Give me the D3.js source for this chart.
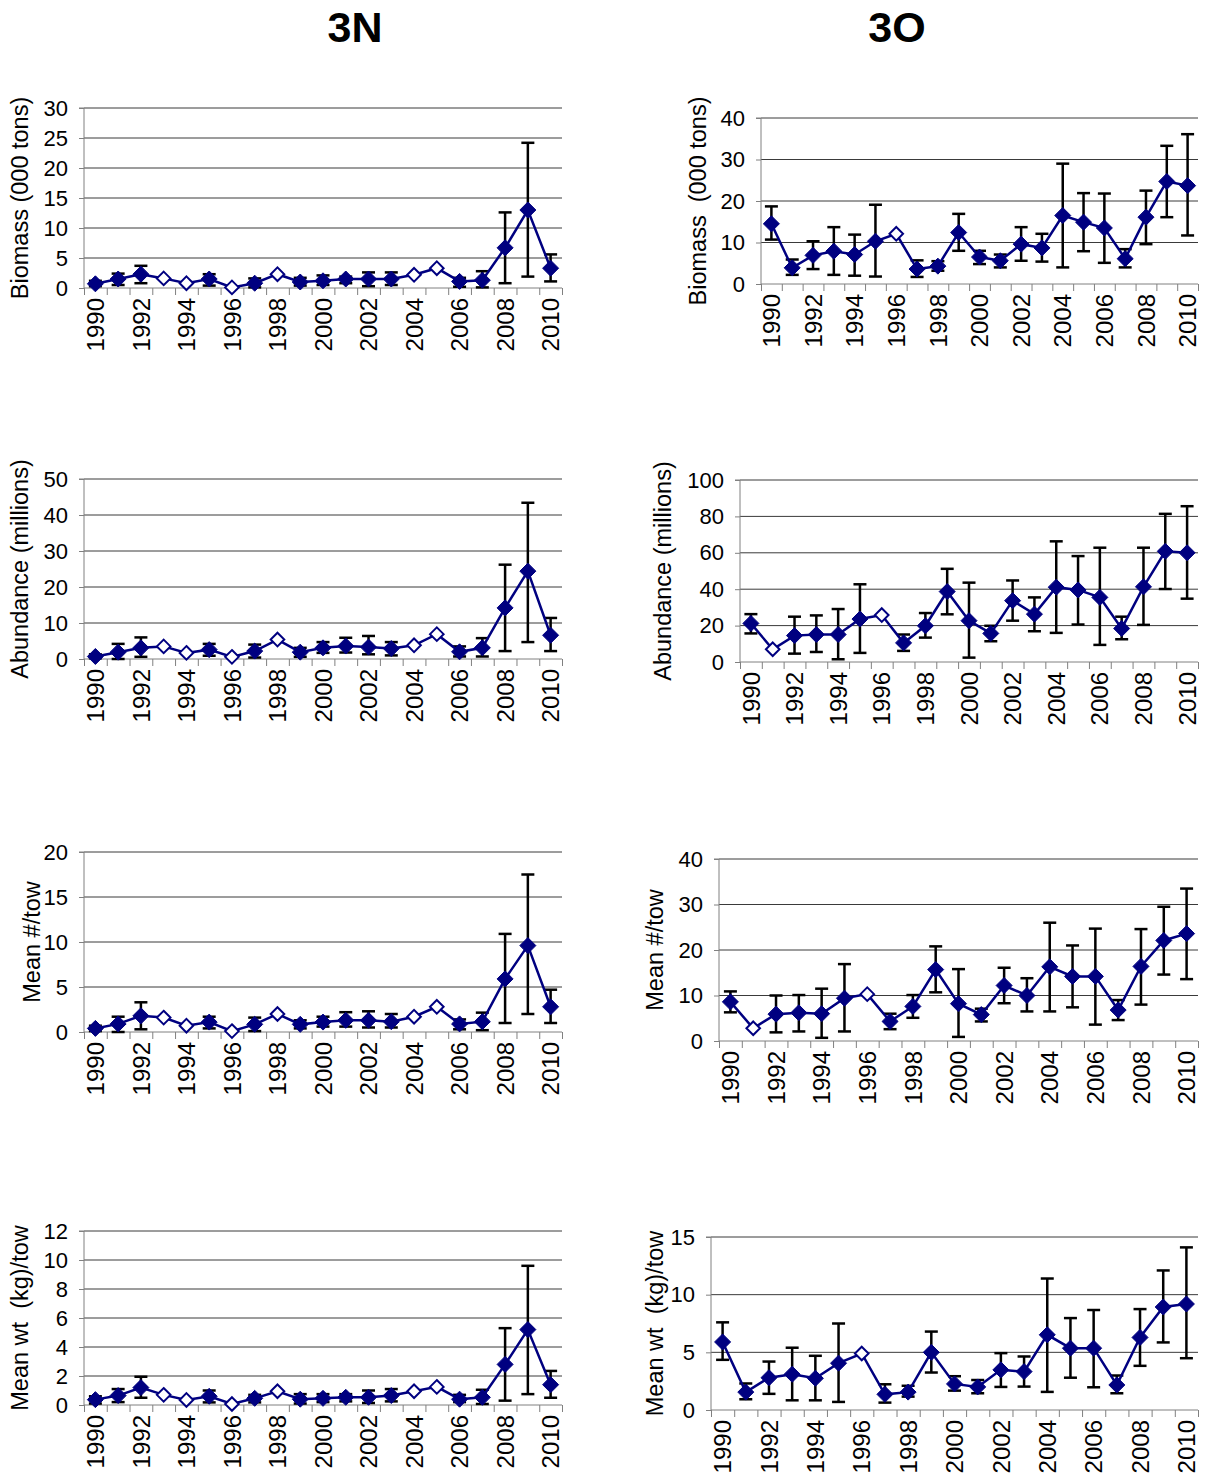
<!DOCTYPE html>
<html>
<head>
<meta charset="utf-8">
<script src="https://cdn.jsdelivr.net/npm/d3@7/dist/d3.min.js"></script>
<style>
  html, body { margin: 0; padding: 0; background: #fff; }
  svg { display: block; font-family: "Liberation Sans", Arial, sans-serif; }
</style>
</head>
<body>
<svg id="chart" width="1210" height="1481"></svg>
<script>
// Survey years (categories on every x axis)
const years = [1990, 1991, 1992, 1993, 1994, 1995, 1996, 1997, 1998, 1999, 2000,
               2001, 2002, 2003, 2004, 2005, 2006, 2007, 2008, 2009, 2010];

// Years with no error estimate (drawn as open diamonds)
const openYears3N = [1993, 1994, 1996, 1998, 2004, 2005];
const openYears3O_biomass = [1996];
const openYears3O_abund = [1991, 1996];
const openYears3O_num = [1991, 1996];
const openYears3O_wt = [1996];

// Division 3N
const biomass3N    = [0.7, 1.5, 2.3, 1.6, 0.8, 1.5, 0.1, 0.8, 2.3, 1.0, 1.2, 1.5, 1.5, 1.5, 2.2, 3.3, 1.1, 1.3, 6.7, 13.0, 3.3];
const biomass3N_lo = [0.3, 0.5, 0.8, null, null, 0.4, null, 0.1, null, 0.4, 0.5, 0.8, 0.3, 0.5, null, null, 0.2, 0.1, 0.8, 1.9, 1.1];
const biomass3N_hi = [1.2, 2.4, 3.7, null, null, 2.3, null, 1.6, null, 1.7, 2.1, 1.9, 2.6, 2.6, null, null, 1.7, 2.8, 12.6, 24.2, 5.6];

const abund3N      = [0.7, 1.9, 3.1, 3.5, 1.7, 2.6, 0.6, 2.2, 5.4, 1.9, 3.1, 3.6, 3.3, 2.9, 3.8, 6.9, 2.0, 3.1, 14.2, 24.4, 6.6];
const abund3N_lo   = [0.2, 0.0, 0.6, null, null, 0.9, null, 0.4, null, 0.6, 1.7, 1.8, 1.3, 1.0, null, null, 0.7, 0.7, 2.2, 4.7, 2.2];
const abund3N_hi   = [1.3, 4.2, 6.0, null, null, 4.2, null, 4.0, null, 3.1, 4.7, 5.9, 6.4, 4.7, null, null, 3.5, 5.8, 26.2, 43.4, 11.4];

const num3N        = [0.4, 0.9, 1.8, 1.6, 0.7, 1.1, 0.1, 0.85, 2.0, 0.85, 1.1, 1.3, 1.3, 1.15, 1.7, 2.8, 0.9, 1.15, 5.9, 9.6, 2.8];
const num3N_lo     = [0.1, 0.0, 0.3, null, null, 0.4, null, 0.1, null, 0.4, 0.6, 0.6, 0.5, 0.5, null, null, 0.3, 0.2, 1.0, 2.0, 1.0];
const num3N_hi     = [0.7, 1.7, 3.3, null, null, 1.7, null, 1.6, null, 1.3, 1.7, 2.2, 2.3, 2.0, null, null, 1.4, 2.15, 10.9, 17.5, 4.7];

const wt3N         = [0.37, 0.65, 1.2, 0.7, 0.35, 0.6, 0.07, 0.46, 0.95, 0.4, 0.46, 0.53, 0.53, 0.65, 0.95, 1.25, 0.4, 0.53, 2.8, 5.2, 1.4];
const wt3N_lo      = [0.1, 0.2, 0.5, null, null, 0.18, null, 0.18, null, 0.1, 0.2, 0.25, 0.14, 0.25, null, null, 0.2, 0.07, 0.3, 0.75, 0.5];
const wt3N_hi      = [0.6, 1.1, 1.95, null, null, 1.0, null, 0.7, null, 0.75, 0.75, 0.75, 1.0, 1.1, null, null, 0.7, 1.05, 5.3, 9.6, 2.35];

// Division 3O
const biomass3O    = [14.5, 3.9, 6.9, 7.9, 7.1, 10.3, 12.1, 3.6, 4.3, 12.4, 6.5, 5.6, 9.6, 8.7, 16.5, 14.9, 13.5, 6.1, 16.1, 24.7, 23.7];
const biomass3O_lo = [10.7, 2.2, 3.6, 2.2, 2.0, 1.8, null, 1.7, 3.2, 8.0, 4.8, 4.0, 5.6, 5.4, 4.0, 7.9, 5.1, 4.0, 9.6, 16.1, 11.7];
const biomass3O_hi = [18.7, 5.9, 10.3, 13.7, 11.9, 19.1, null, 5.7, 5.5, 16.9, 8.0, 7.1, 13.7, 12.1, 29.0, 21.9, 21.8, 8.4, 22.5, 33.3, 36.1];

const abund3O      = [21.2, 7.0, 14.5, 15.1, 15.1, 23.6, 25.8, 10.5, 19.9, 38.7, 22.7, 15.7, 33.7, 26.3, 41.1, 39.6, 35.5, 18.4, 41.3, 60.8, 60.0];
const abund3O_lo   = [15.7, null, 4.6, 5.5, 1.5, 5.0, null, 6.1, 13.4, 26.2, 2.4, 11.4, 22.7, 16.9, 16.0, 20.6, 9.4, 12.5, 20.4, 40.1, 34.8];
const abund3O_hi   = [26.3, null, 24.9, 25.6, 29.1, 42.7, null, 15.1, 26.9, 51.2, 43.6, 19.9, 44.8, 35.5, 66.3, 58.2, 62.8, 24.9, 62.8, 81.4, 85.6];

const num3O        = [8.6, 2.8, 5.9, 6.2, 6.0, 9.4, 10.3, 4.3, 7.6, 15.7, 8.2, 5.8, 12.2, 10.0, 16.3, 14.2, 14.2, 6.8, 16.4, 22.1, 23.6];
const num3O_lo     = [6.3, null, 1.9, 2.1, 0.7, 2.1, null, 2.6, 5.1, 10.7, 0.9, 4.3, 8.3, 6.5, 6.5, 7.4, 3.6, 4.6, 8.0, 14.6, 13.6];
const num3O_hi     = [10.9, null, 10.0, 10.1, 11.5, 16.9, null, 6.0, 10.1, 20.8, 15.8, 7.1, 16.1, 13.8, 26.0, 21.0, 24.7, 9.0, 24.6, 29.5, 33.5];

const wt3O         = [5.9, 1.55, 2.8, 3.1, 2.75, 4.06, 4.9, 1.36, 1.55, 5.0, 2.26, 2.0, 3.48, 3.33, 6.52, 5.36, 5.36, 2.17, 6.29, 8.93, 9.19];
const wt3O_lo      = [4.35, 0.93, 1.4, 0.84, 0.84, 0.7, null, 0.64, 1.16, 3.25, 1.68, 1.45, 2.0, 2.03, 1.57, 2.8, 1.97, 1.45, 3.83, 5.86, 4.49];
const wt3O_hi      = [7.6, 2.3, 4.2, 5.4, 4.7, 7.5, null, 2.23, 2.1, 6.8, 2.93, 2.6, 4.93, 4.64, 11.4, 7.97, 8.67, 2.99, 8.75, 12.1, 14.1];

// Y tick values for each panel
const ticksBiomass3N = [0, 5, 10, 15, 20, 25, 30];
const ticksBiomass3O = [0, 10, 20, 30, 40];
const ticksAbund3N   = [0, 10, 20, 30, 40, 50];
const ticksAbund3O   = [0, 20, 40, 60, 80, 100];
const ticksNum3N     = [0, 5, 10, 15, 20];
const ticksNum3O     = [0, 10, 20, 30, 40];
const ticksWt3N      = [0, 2, 4, 6, 8, 10, 12];
const ticksWt3O      = [0, 5, 10, 15];

const columnTitles = ["3N", "3O"];
const yTitles = ["Biomass (000 tons)", "Biomass\u00a0\u00a0(000 tons)",
                 "Abundance (millions)", "Abundance\u00a0(millions)",
                 "Mean #/tow", "Mean #/tow",
                 "Mean wt\u00a0\u00a0(kg)/tow", "Mean wt\u00a0\u00a0(kg)/tow"];

// Panel definitions: data + placement on the page
const panels = [
  { v: biomass3N, lo: biomass3N_lo, hi: biomass3N_hi, open: openYears3N, ticks: ticksBiomass3N, title: yTitles[0],
    left: 84, right: 562, top: 108, bottom: 288, titleX: 20 },
  { v: biomass3O, lo: biomass3O_lo, hi: biomass3O_hi, open: openYears3O_biomass, ticks: ticksBiomass3O, title: yTitles[1],
    left: 761, right: 1198, top: 118, bottom: 284, titleX: 698 },
  { v: abund3N, lo: abund3N_lo, hi: abund3N_hi, open: openYears3N, ticks: ticksAbund3N, title: yTitles[2],
    left: 84, right: 562, top: 479, bottom: 659, titleX: 20 },
  { v: abund3O, lo: abund3O_lo, hi: abund3O_hi, open: openYears3O_abund, ticks: ticksAbund3O, title: yTitles[3],
    left: 740, right: 1198, top: 480, bottom: 662, titleX: 663 },
  { v: num3N, lo: num3N_lo, hi: num3N_hi, open: openYears3N, ticks: ticksNum3N, title: yTitles[4],
    left: 84, right: 562, top: 852, bottom: 1032, titleX: 32 },
  { v: num3O, lo: num3O_lo, hi: num3O_hi, open: openYears3O_num, ticks: ticksNum3O, title: yTitles[5],
    left: 719, right: 1198, top: 859, bottom: 1041, titleX: 655 },
  { v: wt3N, lo: wt3N_lo, hi: wt3N_hi, open: openYears3N, ticks: ticksWt3N, title: yTitles[6],
    left: 84, right: 562, top: 1231, bottom: 1405, titleX: 20 },
  { v: wt3O, lo: wt3O_lo, hi: wt3O_hi, open: openYears3O_wt, ticks: ticksWt3O, title: yTitles[7],
    left: 711, right: 1198, top: 1237, bottom: 1410, titleX: 655 }
];

const NAVY = "#000080";
const FONT = "Liberation Sans, Arial, sans-serif";
const svg = d3.select("#chart");

// Column headings
svg.selectAll("text.coltitle")
  .data(columnTitles)
  .join("text")
  .attr("class", "coltitle")
  .attr("x", (d, i) => i === 0 ? 355 : 897)
  .attr("y", 42)
  .attr("text-anchor", "middle")
  .attr("font-size", 43)
  .attr("font-weight", "bold")
  .text(d => d);

const diamond = r => `M0,${-r}L${r},0L0,${r}L${-r},0Z`;

panels.forEach(p => {
  const g = svg.append("g");
  const x = d3.scaleBand().domain(years).range([p.left, p.right]).padding(0);
  const xi = d3.scaleLinear().domain([0, years.length]).range([p.left, p.right]);
  const y = d3.scaleLinear().domain([0, p.ticks[p.ticks.length - 1]]).range([p.bottom, p.top]);
  const cx = yr => x(yr) + x.bandwidth() / 2;

  // horizontal gridlines
  g.append("g").selectAll("line")
    .data(p.ticks.filter(t => t > 0))
    .join("line")
    .attr("x1", p.left).attr("x2", p.right)
    .attr("y1", d => y(d)).attr("y2", d => y(d))
    .attr("stroke", "#3a3a3a").attr("stroke-width", 1);

  // y axis
  const ya = g.append("g")
    .attr("transform", `translate(${p.left},0)`)
    .call(d3.axisLeft(y).tickValues(p.ticks).tickSize(5).tickPadding(11).tickFormat(d3.format("d")));
  ya.select(".domain").attr("stroke", "#808080").attr("d", `M-5,${p.top}H0V${p.bottom}`);
  ya.selectAll(".tick line").attr("stroke", "#808080");
  ya.selectAll(".tick text").attr("font-size", 22).attr("fill", "#000").attr("font-family", FONT);

  // x axis: tick marks between categories
  const xa = g.append("g")
    .attr("transform", `translate(0,${p.bottom})`)
    .call(d3.axisBottom(xi).tickValues(d3.range(years.length + 1)).tickSize(7).tickFormat(""));
  xa.select(".domain").attr("stroke", "#808080").attr("d", `M${p.left},0H${p.right}`);
  xa.selectAll(".tick line").attr("stroke", "#808080");

  // x axis: year labels on every other category
  const xl = g.append("g")
    .attr("transform", `translate(0,${p.bottom})`)
    .call(d3.axisBottom(x).tickValues(years.filter((d, i) => i % 2 === 0)).tickSize(0).tickPadding(0));
  xl.select(".domain").remove();
  xl.selectAll(".tick text")
    .attr("font-size", 24).attr("fill", "#000").attr("font-family", FONT)
    .attr("text-anchor", "end")
    .attr("transform", "translate(0,10) rotate(-90)")
    .attr("x", 0).attr("y", 0).attr("dy", "0.36em");

  // y axis title
  g.append("text")
    .attr("transform", `translate(${p.titleX},${(p.top + p.bottom) / 2}) rotate(-90)`)
    .attr("text-anchor", "middle")
    .attr("dy", "0.36em")
    .attr("font-size", 23.5)
    .style("white-space", "pre")
    .text(p.title);

  const rows = years.map((yr, i) => ({ yr, v: p.v[i], lo: p.lo[i], hi: p.hi[i], open: p.open.includes(yr) }));

  // error bars
  const eb = g.append("g").attr("stroke", "#000").attr("stroke-width", 2.5).attr("fill", "none");
  rows.filter(d => d.lo !== null && !d.open).forEach(d => {
    const xc = cx(d.yr);
    eb.append("line").attr("x1", xc).attr("x2", xc).attr("y1", y(d.lo)).attr("y2", y(d.hi));
    eb.append("line").attr("x1", xc - 6.5).attr("x2", xc + 6.5).attr("y1", y(d.lo)).attr("y2", y(d.lo));
    eb.append("line").attr("x1", xc - 6.5).attr("x2", xc + 6.5).attr("y1", y(d.hi)).attr("y2", y(d.hi));
  });

  // connecting line
  g.append("path")
    .datum(rows)
    .attr("fill", "none")
    .attr("stroke", NAVY)
    .attr("stroke-width", 2.5)
    .attr("d", d3.line().x(d => cx(d.yr)).y(d => y(d.v)));

  // markers
  g.append("g").selectAll("path")
    .data(rows)
    .join("path")
    .attr("transform", d => `translate(${cx(d.yr)},${y(d.v)})`)
    .attr("d", d => d.open ? diamond(6.8) : diamond(8))
    .attr("fill", d => d.open ? "#fff" : NAVY)
    .attr("stroke", NAVY)
    .attr("stroke-width", d => d.open ? 2 : 1);
});
</script>
</body>
</html>
